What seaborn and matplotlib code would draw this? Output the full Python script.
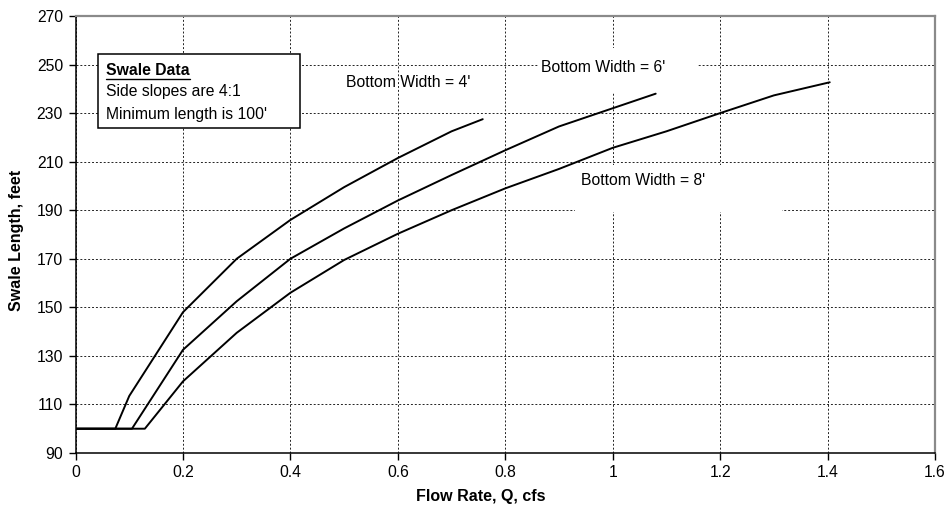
import numpy as np
import pandas as pd
import seaborn as sns
import matplotlib.pyplot as plt
from matplotlib.patches import Rectangle
from matplotlib.lines import Line2D

# data
flow_4 = [0, 0.074, 0.1, 0.2, 0.3, 0.4, 0.5, 0.6, 0.7, 0.758]
length_4 = [100, 100, 113.5, 148, 170, 186, 199.5, 211.5, 222.5, 227.5]

flow_6 = [0, 0.105, 0.2, 0.3, 0.4, 0.5, 0.6, 0.7, 0.8, 0.9, 1.0, 1.08]
length_6 = [100, 100, 132.5, 152.5, 170, 182.5, 194, 204.5, 214.7, 224.5, 232, 238]

flow_8 = [0, 0.129, 0.2, 0.3, 0.4, 0.5, 0.6, 0.7, 0.8, 0.9, 1.0, 1.1, 1.2, 1.3, 1.404]
length_8 = [100, 100, 119.5, 139.5, 156, 169.5, 180.3, 190, 199, 207, 215.7, 222.5, 230, 237.3, 242.7]

series_names = ["Bottom Width = 4'", "Bottom Width = 6'", "Bottom Width = 8'"]
x_ticks = [0, 0.2, 0.4, 0.6, 0.8, 1.0, 1.2, 1.4, 1.6]
x_tick_labels = ['0', '0.2', '0.4', '0.6', '0.8', '1', '1.2', '1.4', '1.6']
y_ticks = list(range(90, 271, 20))
info_lines = ['Swale Data', 'Side slopes are 4:1', "Minimum length is 100'"]


def build_frame():
    parts = []
    for name, x, y in zip(series_names, [flow_4, flow_6, flow_8], [length_4, length_6, length_8]):
        parts.append(pd.DataFrame({'Flow': x, 'Length': y, 'Width': name}))
    return pd.concat(parts, ignore_index=True)


sns.set_theme(style='white')
plt.rcParams['font.family'] = ['Liberation Sans', 'DejaVu Sans']
plt.rcParams['text.color'] = 'black'
plt.rcParams['axes.labelcolor'] = 'black'

df = build_frame()
fs = 11.3

fig = plt.figure(figsize=(9.48, 5.08), dpi=100)
ax = fig.add_axes([0.0797, 0.1083, 0.9066, 0.8602])

sns.lineplot(data=df, x='Flow', y='Length', hue='Width', units='Width', estimator=None, sort=False,
             palette=['black'] * 3, linewidth=1.4, legend=False, ax=ax, zorder=3)

ax.set_xlim(0, 1.6)
ax.set_ylim(90, 270)
ax.set_xticks(x_ticks)
ax.set_xticklabels(x_tick_labels)
ax.set_yticks(y_ticks)
ax.set_axisbelow(True)
ax.grid(True, linestyle=(0, (2, 2)), color='#222222', linewidth=0.7)
ax.tick_params(axis='both', which='major', direction='out', length=5, width=1, color='black',
               labelsize=fs, labelcolor='black', bottom=True, left=True, pad=4)

for side in ['left', 'bottom']:
    ax.spines[side].set_color('black')
    ax.spines[side].set_linewidth(1.1)
for side in ['top', 'right']:
    ax.spines[side].set_color('#8a8a8a')
    ax.spines[side].set_linewidth(1.6)

ax.set_xlabel('Flow Rate, Q, cfs', fontweight='bold', fontsize=11.5, color='black')
ax.set_ylabel('Swale Length, feet', fontweight='bold', fontsize=11.5, color='black')
ax.xaxis.set_label_coords(0.472, -0.082)
ax.yaxis.set_label_coords(-0.060, 0.487)

# white boxes behind two of the labels (hide grid)
ax.add_patch(Rectangle((0.861, 238.6), 0.298, 18.1, facecolor='white', edgecolor='none', zorder=1))
ax.add_patch(Rectangle((0.930, 189.2), 0.386, 19.3, facecolor='white', edgecolor='none', zorder=1))

ax.text(0.504, 242.7, series_names[0], fontsize=fs, va='center', ha='left', color='black', zorder=4)
ax.text(0.867, 248.8, series_names[1], fontsize=fs, va='center', ha='left', color='black', zorder=4)
ax.text(0.941, 202.3, series_names[2], fontsize=fs, va='center', ha='left', color='black', zorder=4)

# info box
ax.add_patch(Rectangle((0.042, 223.7), 0.376, 30.5, facecolor='white', edgecolor='black',
                       linewidth=1.1, zorder=4))
title = ax.text(0.057, 247.6, info_lines[0], fontsize=fs, fontweight='bold', va='center', ha='left',
                color='black', zorder=5)
ax.text(0.057, 239.0, info_lines[1], fontsize=fs, va='center', ha='left', color='black', zorder=5)
ax.text(0.057, 229.5, info_lines[2], fontsize=fs, va='center', ha='left', color='black', zorder=5)

fig.canvas.draw()
bb = title.get_window_extent()
fig.add_artist(Line2D([bb.x0, bb.x1], [bb.y0 - 1, bb.y0 - 1], transform=None, color='black',
                      linewidth=1.0, zorder=6))

fig.savefig('out.png', dpi=100)
